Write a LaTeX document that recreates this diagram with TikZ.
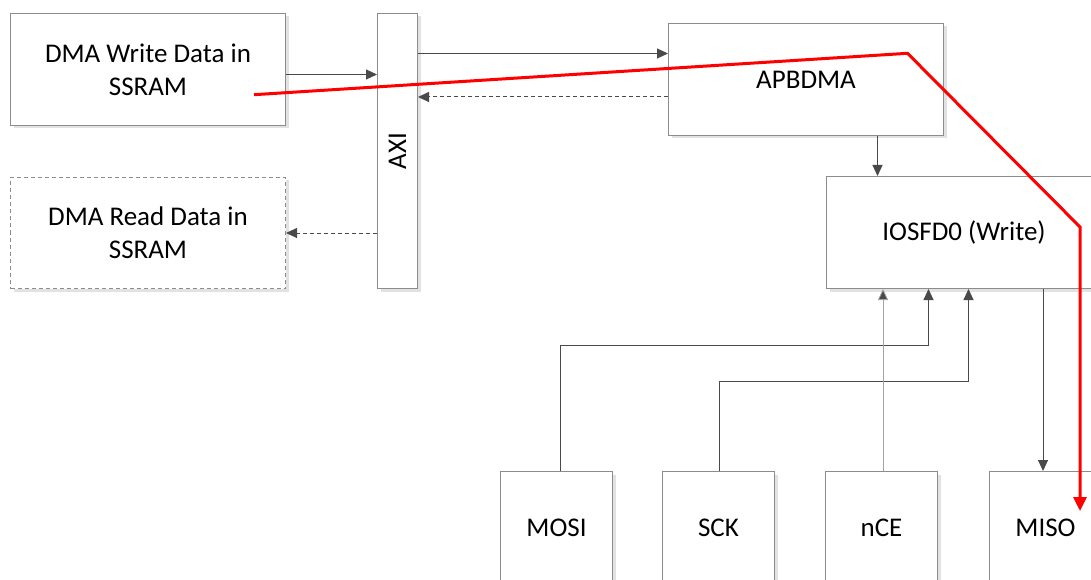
\documentclass[tikz,border=0pt]{standalone}
\usepackage{fontspec}
\setmainfont{Carlito}
\usetikzlibrary{arrows.meta,shadows,calc}
\definecolor{boxgray}{HTML}{8C8C8C}
\definecolor{linegray}{HTML}{4A4A4A}
\definecolor{shadowgray}{HTML}{E2E2E2}
\begin{document}
\begin{tikzpicture}[x=1pt,y=-1pt,
  box/.style={draw=boxgray,line width=1pt,fill=white,anchor=north west,inner sep=0pt,
    align=center,font=\fontsize{27}{33}\selectfont,
    drop shadow={shadow xshift=3pt,shadow yshift=-3pt,fill=shadowgray,opacity=1}},
  wide/.style={minimum width=275pt,minimum height=112pt},
  pin/.style={minimum width=112pt,minimum height=112pt},
  dbox/.style={box,dash pattern=on 4pt off 3pt},
  arr/.style={draw=linegray,line width=1pt,-{Triangle[length=11pt,width=10pt,fill=linegray]}},
  darr/.style={arr,dash pattern=on 4pt off 3pt},
  thinarr/.style={draw=boxgray!80,line width=0.8pt,-{Triangle[length=11pt,width=10pt,fill=linegray]}},
  redpath/.style={draw=red,line width=3pt,-{Triangle[length=14pt,width=13pt,fill=red]}}]
\clip (0,0) rectangle (1091,580);
\fill[white] (0,0) rectangle (1091,580);
% nodes
\node[box,wide] (w) at (10,13) {DMA Write Data in\\SSRAM};
\node[dbox,wide,minimum height=111pt] (r) at (10,177) {DMA Read Data in\\SSRAM};
\node[box,minimum width=40pt,minimum height=275pt] (axi) at (377,13) {};
\node[rotate=90,font=\fontsize{27}{33}\selectfont] (axil) at (axi.center) {AXI};
\node[box,wide] (apb) at (668,23) {APBDMA};
\node[box,wide] (ios) at (826,176) {IOSFD0 (Write)};
\node[box,pin] (mosi) at (500,471) {MOSI};
\node[box,pin] (sck) at (662,471) {SCK};
\node[box,pin] (nce) at (825,471) {nCE};
\node[box,pin] (miso) at (989,471) {MISO};
% connectors
\draw[arr] ([yshift=-5pt]w.east) -- ([yshift=-5pt]w.east -| axi.west);
\coordinate (a1) at ([yshift=26pt]apb.west);
\draw[arr] (axi.east |- a1) -- (a1);
\coordinate (a2) at ([yshift=-17.5pt]apb.west);
\draw[darr] (a2) -- (axi.east |- a2);
\draw[darr] (axi.west |- r.east) -- (r.east);
\coordinate (b1) at ([xshift=71.5pt]apb.south);
\draw[arr] (b1) -- (b1 |- ios.north);
\coordinate (m1) at ([xshift=-35.5pt]ios.south);
\draw[arr] ([xshift=4pt]mosi.north) |- ([yshift=-56pt]m1) -- (m1);
\coordinate (s1) at ([xshift=4.5pt]ios.south);
\draw[arr] ([xshift=0.5pt]sck.north) |- ([yshift=-92pt]s1) -- (s1);
\coordinate (n1) at ([xshift=1.5pt]nce.north);
\draw[thinarr] (n1) -- (n1 |- ios.south);
\coordinate (o1) at ([xshift=79pt]ios.south);
\draw[arr] (o1) -- (o1 |- miso.north);
% red data path
\coordinate (p0) at (254,94.7);
\coordinate (p1) at (907.5,53.3);
\coordinate (p2) at (1080,227);
\coordinate (p3) at (1080,511);
\draw[redpath,line join=miter] (p0) -- (p1) -- (p2) -- (p3);
\end{tikzpicture}
\end{document}
